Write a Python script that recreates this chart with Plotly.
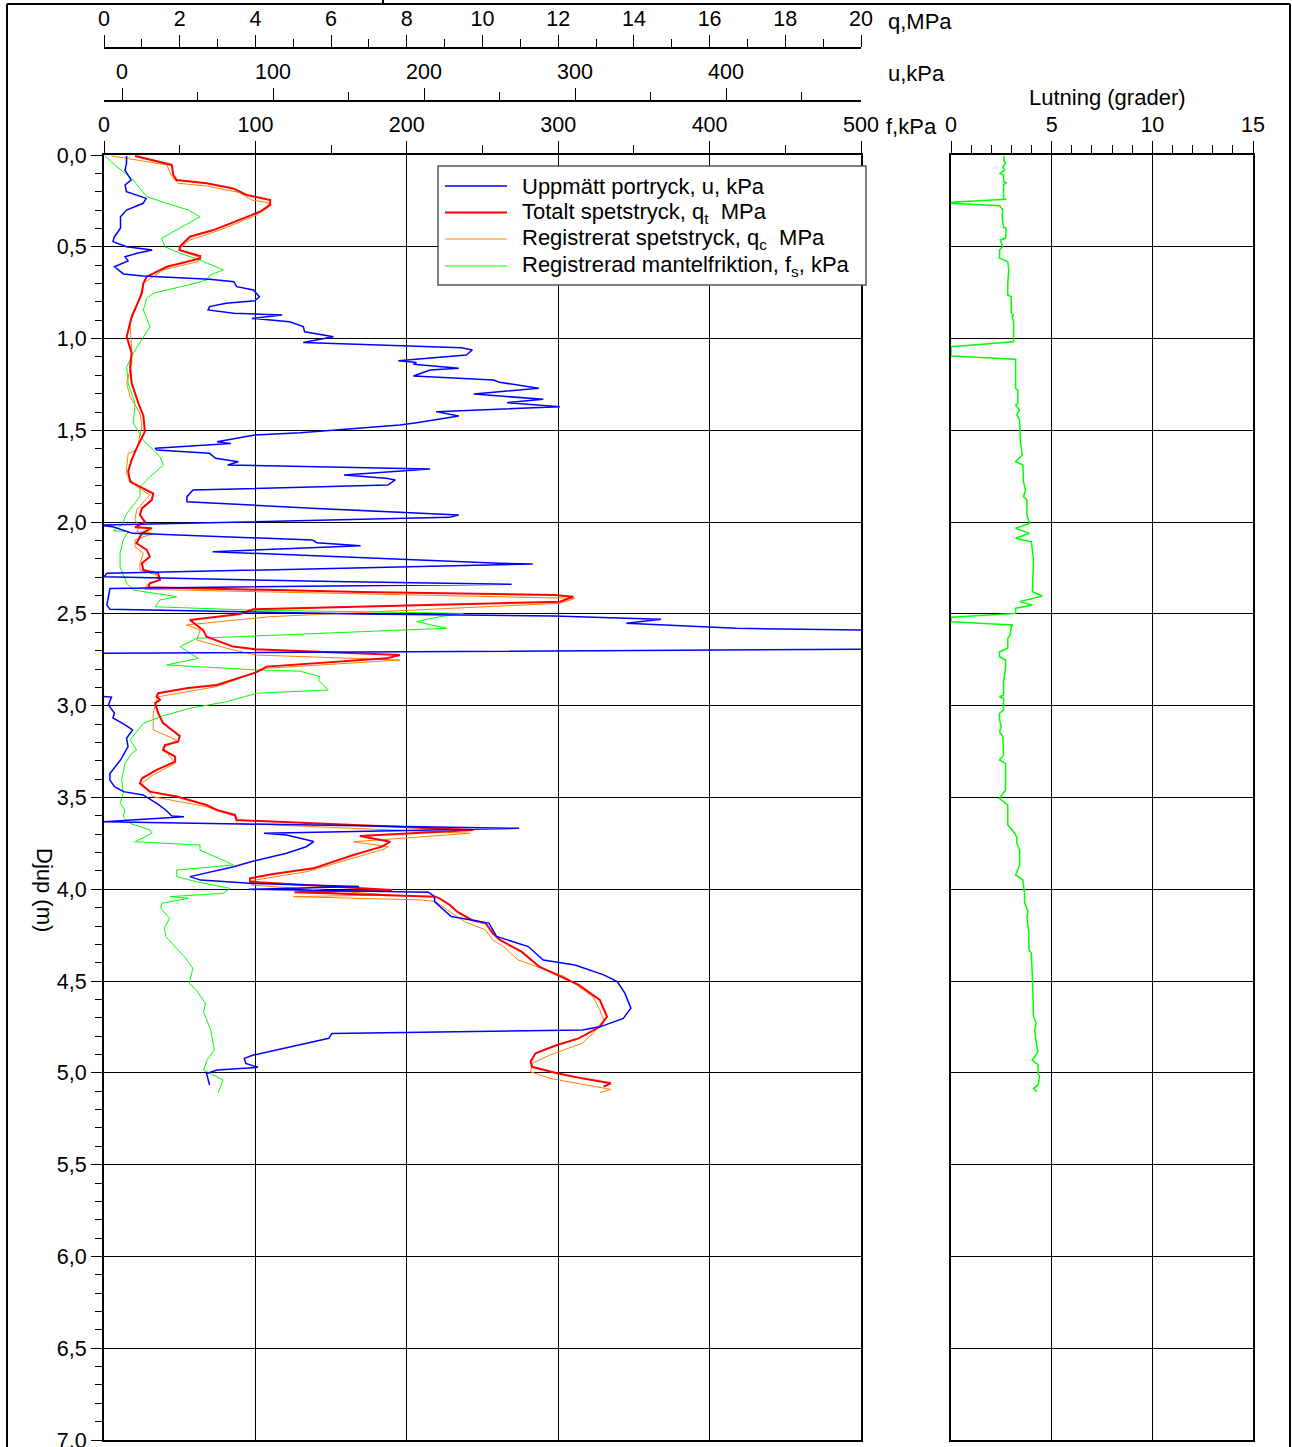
import plotly.graph_objects as go

# ---------------- data ----------------
u_depth = [0.005, 0.045, 0.082, 0.136, 0.163, 0.200, 0.236, 0.263, 0.300, 0.336, 0.399, 0.445, 0.472,
           0.500, 0.518, 0.535, 0.554, 0.577, 0.609, 0.648, 0.659, 0.677, 0.690, 0.717, 0.735, 0.772,
           0.794, 0.808, 0.826, 0.844, 0.862, 0.872, 0.890, 0.908, 0.935, 0.963, 0.990, 1.022, 1.050,
           1.062, 1.090, 1.121, 1.131, 1.140, 1.162, 1.171, 1.204, 1.226, 1.238, 1.271, 1.302, 1.325,
           1.331, 1.349, 1.371, 1.398, 1.422, 1.458, 1.471, 1.513, 1.525, 1.562, 1.571, 1.598, 1.607,
           1.625, 1.652, 1.671, 1.689, 1.710, 1.743, 1.761, 1.770, 1.798, 1.825, 1.861, 1.889, 1.925,
           1.961, 1.974, 2.016, 2.025, 2.061, 2.097, 2.112, 2.128, 2.161, 2.224, 2.228, 2.279, 2.297,
           2.324, 2.338, 2.357, 2.362, 2.451, 2.475, 2.500, 2.511, 2.524, 2.529, 2.551, 2.578, 2.588,
           2.600, 2.680, 2.693, 2.714, 2.720, 2.940, 2.950, 2.953, 2.996, 3.040, 3.067, 3.104, 3.132,
           3.177, 3.223, 3.296, 3.369, 3.405, 3.441, 3.468, 3.486, 3.532, 3.568, 3.601, 3.605, 3.632,
           3.668, 3.695, 3.704, 3.740, 3.768, 3.804, 3.849, 3.877, 3.931, 3.950, 3.968, 3.985, 4.000,
           4.016, 4.040, 4.067, 4.148, 4.184, 4.257, 4.312, 4.385, 4.412, 4.466, 4.503, 4.566, 4.648,
           4.703, 4.748, 4.766, 4.785, 4.812, 4.867, 4.903, 4.921, 4.949, 4.970, 4.985, 5.003, 5.067]
u_kpa = [3, 3, 2, 6, 2, 3, 16, 14, 3, -1, -1, -5, -6,
         3, 20, 10, 2, 4, -5, 1, 14, 58, 74, 76, 87, 91,
         88, 69, 58, 57, 74, 106, 86, 111, 120, 121, 140, 120, 225,
         232, 228, 183, 195, 193, 223, 204, 193, 246, 250, 276, 233, 270,
         279, 255, 290, 208, 223, 195, 184, 118, 88, 63, 72, 22, 23,
         58, 62, 77, 70, 204, 147, 175, 181, 176, 47, 43, 43, 129,
         223, 217, -15, -6, 7, 126, 129, 158, 60, 250, 272, -10, -12,
         140, 258, 33, -8, -10, -8, 158, 286, 334, 357, 334, 407, 489,
         560, 560, 489, -12, -25, -25, -11, -7, -9, -5, -6, 2, 7,
         3, 4, -1, -8, -8, -5, 1, 14, 23, 29, 33, 41, -12,
         263, 94, 109, 127, 122, 109, 86, 74, 45, 52, 87, 157, 84,
         203, 207, 207, 218, 243, 248, 269, 279, 300, 319, 328, 333, 337,
         332, 317, 305, 139, 137, 108, 87, 81, 82, 90, 63, 56, 58]

qt_depth = [0.005, 0.054, 0.109, 0.136, 0.154, 0.182, 0.218, 0.245, 0.272, 0.309, 0.345, 0.409, 0.445,
            0.500, 0.518, 0.550, 0.563, 0.609, 0.663, 0.699, 0.754, 0.881, 0.990, 1.080, 1.153, 1.243,
            1.353, 1.420, 1.507, 1.598, 1.661, 1.724, 1.779, 1.815, 1.844, 1.880, 1.925, 1.961, 1.997,
            2.028, 2.033, 2.061, 2.115, 2.151, 2.188, 2.224, 2.261, 2.279, 2.315, 2.333, 2.355, 2.380,
            2.397, 2.406, 2.433, 2.475, 2.500, 2.533, 2.560, 2.588, 2.624, 2.678, 2.692, 2.724, 2.742,
            2.787, 2.820, 2.887, 2.905, 2.932, 2.950, 2.968, 2.986, 3.040, 3.095, 3.165, 3.196, 3.214,
            3.241, 3.277, 3.305, 3.350, 3.396, 3.423, 3.468, 3.495, 3.541, 3.568, 3.595, 3.623, 3.677,
            3.710, 3.741, 3.768, 3.813, 3.849, 3.886, 3.917, 3.940, 3.959, 4.004, 4.016, 4.030, 4.040,
            4.049, 4.086, 4.122, 4.167, 4.185, 4.240, 4.276, 4.340, 4.422, 4.467, 4.521, 4.603, 4.694,
            4.749, 4.812, 4.848, 4.893, 4.939, 4.967, 5.002, 5.030, 5.057, 5.075]
qt_mpa = [0.82, 1.79, 1.83, 1.92, 2.71, 3.41, 3.77, 4.39, 4.39, 4.12, 3.68, 2.89, 2.27,
          2.00, 2.00, 2.54, 2.54, 1.66, 1.13, 1.04, 1.00, 0.73, 0.60, 0.73, 0.69, 0.73,
          0.91, 1.04, 1.08, 0.86, 0.73, 0.64, 0.69, 1.04, 1.30, 1.26, 1.00, 0.95, 1.08,
          0.82, 1.26, 1.00, 0.86, 1.13, 1.21, 1.00, 1.04, 1.43, 1.48, 1.21, 1.17, 6.80,
          11.90, 12.40, 12.05, 3.94, 3.60, 2.27, 2.45, 2.62, 2.71, 3.41, 3.99, 7.82, 7.47,
          4.30, 4.00, 2.98, 2.18, 1.43, 1.39, 1.48, 1.35, 1.43, 1.56, 2.00, 1.96, 1.61,
          1.56, 1.88, 1.88, 1.39, 1.00, 0.95, 1.21, 1.92, 2.71, 2.98, 3.46, 3.50, 9.76,
          6.76, 7.56, 7.34, 6.59, 6.06, 5.53, 4.47, 3.86, 3.86, 7.60, 5.03, 7.56, 8.76,
          8.86, 9.14, 9.33, 9.71, 10.08, 10.27, 10.46, 11.03, 11.50, 11.97, 12.54, 13.10, 13.29,
          13.10, 12.54, 11.97, 11.40, 11.27, 11.31, 11.97, 12.63, 13.39, 13.20]

qc_depth = [0.005, 0.054, 0.118, 0.154, 0.169, 0.205, 0.245, 0.260, 0.285, 0.327, 0.409, 0.463, 0.518,
            0.554, 0.581, 0.626, 0.699, 0.772, 0.917, 1.062, 1.135, 1.244, 1.317, 1.407, 1.480, 1.607,
            1.625, 1.698, 1.743, 1.807, 1.852, 1.934, 1.988, 2.025, 2.052, 2.061, 2.097, 2.134, 2.170,
            2.224, 2.261, 2.288, 2.315, 2.342, 2.366, 2.415, 2.442, 2.515, 2.560, 2.588, 2.642, 2.697,
            2.724, 2.751, 2.796, 2.896, 2.951, 2.969, 3.041, 3.132, 3.187, 3.232, 3.314, 3.377, 3.423,
            3.496, 3.550, 3.605, 3.641, 3.695, 3.741, 3.768, 3.782, 3.831, 3.904, 3.953, 3.977, 4.031,
            4.040, 4.058, 4.067, 4.095, 4.149, 4.176, 4.221, 4.276, 4.313, 4.385, 4.440, 4.476, 4.585,
            4.657, 4.712, 4.785, 4.839, 4.903, 4.948, 4.994, 5.030, 5.067, 5.090, 5.108]
qc_mpa = [0.20, 1.66, 1.79, 1.96, 2.71, 3.59, 3.90, 4.34, 4.34, 4.03, 3.06, 2.27, 1.96,
          2.49, 2.49, 1.57, 1.04, 0.95, 0.69, 0.73, 0.73, 0.60, 0.69, 0.95, 1.00, 0.86,
          0.64, 0.60, 0.60, 0.86, 1.21, 0.86, 0.82, 0.95, 0.86, 1.30, 0.82, 0.82, 1.04,
          0.95, 0.95, 1.39, 1.43, 1.13, 1.08, 12.44, 12.05, 4.39, 2.18, 2.54, 2.45, 3.42,
          4.03, 7.82, 4.30, 2.98, 1.43, 1.39, 1.30, 1.30, 1.92, 1.57, 1.88, 1.30, 1.00,
          1.30, 2.71, 3.51, 3.51, 9.67, 6.59, 7.51, 7.38, 6.59, 5.36, 3.90, 3.90, 7.56,
          5.00, 8.38, 8.76, 8.95, 9.33, 9.52, 10.08, 10.27, 10.56, 10.94, 11.69, 12.17, 12.92,
          13.10, 13.20, 12.92, 12.63, 11.78, 11.31, 11.27, 11.78, 12.82, 13.39, 13.10]

fs_depth = [0.005, 0.064, 0.127, 0.227, 0.263, 0.300, 0.336, 0.399, 0.454, 0.500, 0.535, 0.572, 0.626,
            0.654, 0.681, 0.699, 0.753, 0.781, 0.844, 0.935, 1.080, 1.153, 1.244, 1.353, 1.462, 1.553,
            1.643, 1.689, 1.752, 1.807, 1.861, 1.952, 2.016, 2.047, 2.052, 2.097, 2.170, 2.243, 2.333,
            2.370, 2.406, 2.424, 2.461, 2.479, 2.497, 2.515, 2.542, 2.578, 2.633, 2.678, 2.715, 2.742,
            2.778, 2.805, 2.812, 2.842, 2.860, 2.914, 2.932, 2.978, 3.014, 3.060, 3.096, 3.142, 3.187,
            3.241, 3.259, 3.314, 3.405, 3.477, 3.532, 3.568, 3.605, 3.641, 3.677, 3.695, 3.741, 3.759,
            3.786, 3.850, 3.868, 3.895, 3.931, 3.959, 3.995, 4.022, 4.040, 4.049, 4.076, 4.104, 4.158,
            4.213, 4.258, 4.313, 4.376, 4.430, 4.512, 4.549, 4.621, 4.667, 4.767, 4.875, 4.930, 4.985,
            5.039, 5.111]
fs_kpa = [0.7, 8.4, 18.3, 28.2, 41.4, 55.7, 63.4, 50.2, 38.1, 40.3, 50.2, 63.4, 78.8,
          70.0, 67.8, 60.1, 32.6, 28.2, 26.0, 30.4, 19.4, 15.0, 16.0, 20.5, 19.4, 26.0,
          37.0, 39.2, 30.4, 23.8, 23.8, 15.0, 11.7, 6.1, 16.0, 12.7, 10.6, 10.6, 15.0,
          19.4, 48.0, 37.0, 33.7, 96.4, 237.3, 221.9, 206.5, 226.3, 61.2, 50.2, 56.8, 62.3,
          41.4, 100.9, 129.5, 142.7, 141.5, 148.1, 100.9, 81.0, 56.8, 37.0, 26.0, 21.6, 17.2,
          21.6, 18.3, 13.9, 11.7, 12.7, 10.6, 13.9, 12.7, 17.2, 30.4, 31.5, 20.5, 63.4,
          63.4, 81.0, 85.4, 48.0, 48.0, 61.2, 83.2, 78.8, 43.6, 55.7, 38.1, 37.5, 43.3,
          39.8, 41.0, 46.9, 54.0, 58.7, 56.3, 61.0, 67.0, 65.8, 70.5, 72.9, 68.1, 65.8,
          78.7, 75.2]

incl_depth = [0.005, 0.027, 0.045, 0.064, 0.082, 0.100, 0.109, 0.145, 0.151, 0.163, 0.238, 0.241, 0.258,
              0.263, 0.276, 0.300, 0.336, 0.394, 0.399, 0.454, 0.463, 0.500, 0.518, 0.563, 0.581, 0.626,
              0.699, 0.763, 0.772, 0.862, 0.872, 0.881, 0.908, 1.017, 1.044, 1.095, 1.113, 1.271, 1.280,
              1.353, 1.362, 1.389, 1.416, 1.444, 1.553, 1.634, 1.671, 1.689, 1.780, 1.825, 1.861, 1.879,
              1.961, 2.006, 2.034, 2.061, 2.088, 2.107, 2.179, 2.206, 2.379, 2.402, 2.433, 2.451, 2.469,
              2.497, 2.518, 2.542, 2.560, 2.569, 2.615, 2.633, 2.687, 2.706, 2.733, 2.751, 2.796, 2.869,
              2.942, 2.951, 2.960, 3.023, 3.041, 3.078, 3.114, 3.142, 3.169, 3.269, 3.296, 3.314, 3.459,
              3.505, 3.541, 3.650, 3.677, 3.714, 3.750, 3.786, 3.868, 3.922, 3.949, 4.022, 4.068, 4.122,
              4.158, 4.204, 4.240, 4.331, 4.349, 4.476, 4.603, 4.694, 4.730, 4.766, 4.839, 4.885, 4.930,
              4.957, 5.002, 5.021, 5.066, 5.084, 5.103]
incl_deg = [2.66, 2.61, 2.71, 2.57, 2.66, 2.44, 2.61, 2.61, 2.74, 2.61, 2.61, 2.74, 0.0,
            0.0, 2.41, 2.57, 2.54, 2.61, 2.74, 2.71, 2.44, 2.57, 2.41, 2.41, 2.82, 2.87,
            2.82, 2.82, 2.99, 2.99, 3.11, 3.04, 3.11, 3.11, 0.0, 0.0, 3.21, 3.21, 3.32,
            3.32, 3.21, 3.41, 3.27, 3.41, 3.44, 3.54, 3.21, 3.57, 3.60, 3.70, 3.60, 3.77,
            3.77, 3.90, 3.21, 3.90, 3.21, 3.99, 4.07, 4.10, 4.04, 4.53, 3.41, 4.04, 3.21,
            3.21, 0.0, 0.0, 3.07, 2.99, 2.94, 2.82, 2.82, 2.41, 2.41, 2.71, 2.71, 2.61,
            2.61, 2.41, 2.61, 2.61, 2.41, 2.41, 2.49, 2.41, 2.57, 2.61, 2.41, 2.71, 2.71,
            2.41, 2.82, 2.82, 3.04, 3.27, 3.27, 3.41, 3.41, 3.21, 3.57, 3.65, 3.65, 3.82,
            3.77, 3.82, 3.87, 3.87, 3.99, 4.04, 4.07, 4.10, 4.24, 4.15, 4.24, 4.32, 4.04,
            4.32, 4.32, 4.40, 4.32, 4.10, 4.27]

f_ticks = [0, 100, 200, 300, 400, 500]
u_ticks = [0, 100, 200, 300, 400]
q_ticks = [0, 2, 4, 6, 8, 10, 12, 14, 16, 18, 20]
incl_ticks = [0, 5, 10, 15]
depth_ticks = [0.0, 0.5, 1.0, 1.5, 2.0, 2.5, 3.0, 3.5, 4.0, 4.5, 5.0, 5.5, 6.0, 6.5, 7.0]

legend_names = ["Uppmätt portryck, u, kPa",
                "Totalt spetstryck, q<sub>t</sub>  MPa",
                "Registrerat spetstryck, q<sub>c</sub>  MPa",
                "Registrerad mantelfriktion, f<sub>s</sub>, kPa"]

# ---------------- figure ----------------
W, H = 1292, 1447
FONT = "Liberation Sans, Arial, sans-serif"
TICK_SIZE = 21.5
TEXT_SIZE = 22

styles = {
    "u": dict(color="#0000ff", width=1.5),
    "qt": dict(color="#ff0000", width=2),
    "qc": dict(color="#ff8000", width=1),
    "fs": dict(color="#00ff00", width=1),
}


def fx(px):
    return px / W


def fy(py):
    return 1 - py / H


main_dom = [fx(104), fx(861)]
right_dom = [fx(951), fx(1253)]
y_dom = [fy(1440), fy(155)]

fig = go.Figure()
fig.add_trace(go.Scatter(x=fs_kpa, y=fs_depth, xaxis="x", yaxis="y", mode="lines",
                         line=styles["fs"], name=legend_names[3], showlegend=False))
fig.add_trace(go.Scatter(x=qc_mpa, y=qc_depth, xaxis="x2", yaxis="y", mode="lines",
                         line=styles["qc"], name=legend_names[2], showlegend=False))
fig.add_trace(go.Scatter(x=qt_mpa, y=qt_depth, xaxis="x2", yaxis="y", mode="lines",
                         line=styles["qt"], name=legend_names[1], showlegend=False))
fig.add_trace(go.Scatter(x=u_kpa, y=u_depth, xaxis="x3", yaxis="y", mode="lines",
                         line=styles["u"], name=legend_names[0], showlegend=False))
fig.add_trace(go.Scatter(x=incl_deg, y=incl_depth, xaxis="x4", yaxis="y2", mode="lines",
                         line=dict(color="#00ff00", width=1.5), name="Lutning", showlegend=False))

tickfont = dict(family=FONT, size=TICK_SIZE, color="black")
common_x = dict(side="top", ticks="outside", ticklen=12, tickwidth=1, tickcolor="black",
                showline=True, linecolor="black", linewidth=2, zeroline=False,
                tickfont=tickfont, fixedrange=True, automargin=False, ticklabeloverflow="allow")

fig.update_layout(
    width=W, height=H,
    autosize=False,
    margin=dict(l=0, r=0, t=0, b=0, pad=0, autoexpand=False),
    paper_bgcolor="white", plot_bgcolor="white",
    separators=", ",
    font=dict(family=FONT, size=TEXT_SIZE, color="black"),
    showlegend=False,
    xaxis=dict(domain=main_dom, anchor="y", range=[0, 500], tickvals=f_ticks,
               minor=dict(dtick=50, tick0=0, ticks="outside", ticklen=8, tickcolor="black", showgrid=False),
               showgrid=True, gridcolor="black", gridwidth=1, mirror=True, **common_x),
    xaxis2=dict(overlaying="x", anchor="free", position=fy(48), range=[0, 20], tickvals=q_ticks,
                minor=dict(dtick=1, tick0=0, ticks="outside", ticklen=8, tickcolor="black", showgrid=False),
                showgrid=False, **common_x),
    xaxis3=dict(overlaying="x", anchor="free", position=fy(101), range=[-11.92, 489.4], tickvals=u_ticks,
                minor=dict(dtick=50, tick0=0, ticks="outside", ticklen=8, tickcolor="black", showgrid=False),
                showgrid=False, **common_x),
    xaxis4=dict(domain=right_dom, anchor="y2", range=[0, 15], tickvals=incl_ticks,
                minor=dict(dtick=1, tick0=0, ticks="outside", ticklen=8, tickcolor="black", showgrid=False),
                showgrid=True, gridcolor="black", gridwidth=1, mirror=True, **common_x),
    yaxis=dict(domain=y_dom, anchor="x", range=[7, 0], tickvals=depth_ticks, tickformat=".1f",
               ticks="outside", ticklen=11, tickwidth=1, tickcolor="black",
               minor=dict(dtick=0.1, tick0=0, ticks="outside", ticklen=7, tickcolor="black", showgrid=False),
               showgrid=True, gridcolor="black", gridwidth=1,
               showline=True, linecolor="black", linewidth=2, mirror=True, zeroline=False,
               tickfont=tickfont, fixedrange=True, automargin=False, ticklabeloverflow="allow"),
    yaxis2=dict(domain=y_dom, anchor="x4", range=[7, 0], tickvals=depth_ticks, showticklabels=False,
                ticks="", showgrid=True, gridcolor="black", gridwidth=1,
                showline=True, linecolor="black", linewidth=2, mirror=True, zeroline=False,
                fixedrange=True, automargin=False),
)

ann_font = dict(family=FONT, size=TEXT_SIZE, color="black")
annotations = [
    dict(text="q,MPa", x=fx(886), y=fy(21), xanchor="left", yanchor="middle"),
    dict(text="u,kPa", x=fx(886), y=fy(74), xanchor="left", yanchor="middle"),
    dict(text="f,kPa", x=fx(884), y=fy(127), xanchor="left", yanchor="middle"),
    dict(text="Lutning (grader)", x=fx(1107), y=fy(97), xanchor="center", yanchor="middle"),
    dict(text="Djup (m)", x=fx(45), y=fy(890), xanchor="center", yanchor="middle", textangle=90),
]

# legend box (drawn as a key: box, line samples, texts)
legend_rows_py = [186, 212.5, 239, 266]
legend_keys = ["u", "qt", "qc", "fs"]
shapes = [dict(type="rect", xref="paper", yref="paper", x0=fx(438), x1=fx(866), y0=fy(285), y1=fy(166),
               fillcolor="white", line=dict(color="#555555", width=1.5), layer="above")]
for name, key, py in zip(legend_names, legend_keys, legend_rows_py):
    shapes.append(dict(type="line", xref="paper", yref="paper", x0=fx(445), x1=fx(507),
                       y0=fy(py), y1=fy(py), line=styles[key], layer="above"))
    annotations.append(dict(text=name, x=fx(520), y=fy(py), xanchor="left", yanchor="middle"))

for a in annotations:
    a.update(xref="paper", yref="paper", showarrow=False, font=ann_font)

# outer drawing frame (title-block edge)
frame = [
    dict(x0=fx(7), x1=fx(7), y0=fy(4), y1=0),
    dict(x0=fx(1290), x1=fx(1290), y0=fy(4), y1=0),
    dict(x0=fx(7), x1=fx(1290), y0=fy(4), y1=fy(4)),
    dict(x0=fx(383), x1=fx(383), y0=1, y1=fy(4)),
]
for s in frame:
    s.update(type="line", xref="paper", yref="paper", line=dict(color="black", width=2))
shapes.extend(frame)

fig.update_layout(annotations=annotations, shapes=shapes)

fig.write_html("out.html", config={"displayModeBar": False, "staticPlot": True},
               post_script="document.body.style.margin='0px';document.body.style.overflow='hidden';")
